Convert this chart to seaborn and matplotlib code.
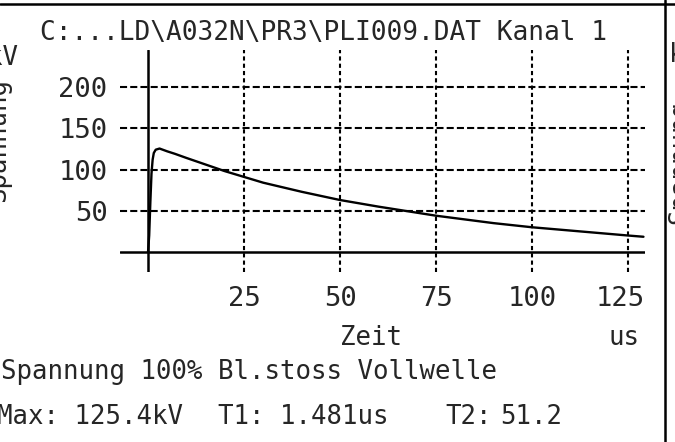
import matplotlib
matplotlib.use("Agg")
import matplotlib.pyplot as plt
import seaborn as sns
from matplotlib.lines import Line2D
from matplotlib.transforms import ScaledTranslation

# Stosspannung, values (time in us, voltage in kV)
zeit = [0, 0.3, 0.6, 0.9, 1.2, 1.5, 2.0, 3.0, 5, 7, 10, 15, 20, 25, 30,
        40, 50, 60, 75, 90, 100, 110, 125, 129]
spannung = [0, 20, 60, 95, 112, 120, 124, 125.4, 122, 119, 114, 106, 98, 91, 84,
            73, 63, 55, 44, 35, 30, 26, 20, 18.5]

x_ticks = [25, 50, 75, 100, 125]
y_ticks = [50, 100, 150, 200]

title = "C:...LD\\A032N\\PR3\\PLI009.DAT Kanal 1"
info1 = "Spannung 100% Bl.stoss Vollwelle"

sns.set_style("white")
plt.rcParams['font.family'] = ['DejaVu Sans Mono', 'DejaVu Sans']
FS = 18.5

W, H = 675, 442
fig = plt.figure(figsize=(W / 100, H / 100), dpi=100)
fig.patch.set_facecolor("white")

# axes box in pixel coords: x 120..645, y 50..272
ax = fig.add_axes([120 / W, (H - 272) / H, 525 / W, 222 / H])
ax.set_facecolor("white")

hdash = (0, (3.4, 1.5))
vdash = (0, (2.0, 1.5))
for yv in y_ticks:
    ax.axhline(yv, color="black", lw=1.5, ls=hdash, zorder=1)
for xv in x_ticks:
    ax.axvline(xv, color="black", lw=1.5, ls=vdash, zorder=1)
ax.axhline(0, color="black", lw=1.8, zorder=2)
ax.axvline(0, color="black", lw=1.8, zorder=2)

sns.lineplot(x=zeit, y=spannung, color="black", lw=1.7, ax=ax, zorder=3)

ax.set_xlim(-7.3, 129.4)
ax.set_ylim(-24.2, 244.8)
ax.set_xticks(x_ticks)
ax.set_yticks(y_ticks)
ax.tick_params(axis="both", length=0, labelsize=19.5)
ax.tick_params(axis="x", pad=10)
ax.tick_params(axis="y", pad=9)
for s in ax.spines.values():
    s.set_visible(False)

# last x label sits a bit left of its grid line in the original
last = ax.get_xticklabels()[-1]
last.set_transform(last.get_transform() + ScaledTranslation(-0.08, 0, fig.dpi_scale_trans))


def px(x, y):
    return x / W, 1 - y / H


fig.text(*px(40, 33), title, fontsize=18.8, ha="left", va="center")
fig.text(*px(371, 338), "Zeit", fontsize=FS, ha="center", va="center")
fig.text(*px(624, 338), "us", fontsize=FS, ha="center", va="center")
fig.text(*px(18, 58), "kV", fontsize=FS, ha="right", va="center")
fig.text(*px(-2, 140), "Spannung", fontsize=FS, ha="center", va="center", rotation=90)
fig.text(*px(1, 372), info1, fontsize=FS, ha="left", va="center")
fig.text(*px(-3, 417), "Max: 125.4kV", fontsize=FS, ha="left", va="center")
fig.text(*px(218, 417), "T1: 1.481us", fontsize=FS, ha="left", va="center")
fig.text(*px(445, 417), "T2:", fontsize=FS, ha="left", va="center")
fig.text(*px(500, 417), "51.2", fontsize=FS, ha="left", va="center")

# pieces of the neighbouring panel at the right edge
fig.text(*px(669, 55), "k", fontsize=FS, ha="left", va="center")
fig.text(*px(667, 162), "Spannung", fontsize=FS, ha="left", va="center", rotation=90)
fig.add_artist(Line2D([665 / W, 665 / W], [0, 1], color="black", lw=1.8,
                      transform=fig.transFigure))
fig.add_artist(Line2D([0, 1], [1 - 4 / H, 1 - 4 / H], color="black", lw=1.8,
                      transform=fig.transFigure))

fig.savefig("out.png", dpi=100, facecolor="white")
